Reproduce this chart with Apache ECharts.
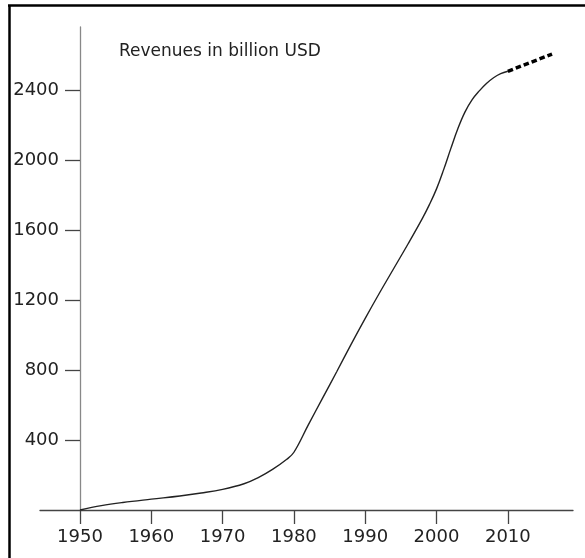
<!DOCTYPE html>
<html>
<head>
<meta charset="utf-8">
<script src="https://cdn.jsdelivr.net/npm/echarts@6/dist/echarts.min.js"></script>
<style>
html,body{margin:0;padding:0;background:#fff;}
#c{width:585px;height:558px;}
</style>
</head>
<body>
<div id="c"></div>
<script>
const years = [1950,1953,1956,1960,1964,1967,1970,1973,1975,1977,1979,1980,1982,1984,1986,1988,1990,1992,1994,1996,1998,1999,2000,2001,2002,2003,2004,2005,2006,2007,2008,2009,2010];
const revenues = [0,25,43,62,80,97,118,150,185,232,290,330,485,638,790,945,1095,1240,1380,1520,1665,1745,1835,1945,2065,2180,2275,2345,2395,2437,2470,2493,2507];
const forecastYears = [2010,2016.2];
const forecastRevenues = [2507,2605];
const xTicks = [1950,1960,1970,1980,1990,2000,2010];
const yTicks = [400,800,1200,1600,2000,2400];
const titleText = 'Revenues in billion USD';

const chart = echarts.init(document.getElementById('c'), null, {renderer:'canvas'});
const font = '"DejaVu Sans", Verdana, sans-serif';
chart.setOption({
  animation:false,
  backgroundColor:'#fff',
  title:{text:titleText,left:114,top:38,textStyle:{fontFamily:font,fontSize:17,fontWeight:'normal',color:'#222'}},
  grid:{left:40,right:12,top:27,bottom:48,containLabel:false},
  xAxis:{
    type:'value',min:1944.39,max:2019.14,
    splitLine:{show:false},
    axisLine:{onZero:false,lineStyle:{color:'#444',width:1.3}},
    axisTick:{show:true,inside:false,length:14,customValues:xTicks,lineStyle:{color:'#444',width:1.3}},
    axisLabel:{customValues:xTicks,margin:18,fontFamily:font,fontSize:18,color:'#222',formatter:v=>String(Math.round(v))}
  },
  yAxis:{
    type:'value',min:0,max:2760,offset:-40,
    splitLine:{show:false},
    axisLine:{show:true,onZero:false,lineStyle:{color:'#888',width:1.3}},
    axisTick:{show:true,length:15,customValues:yTicks,lineStyle:{color:'#444',width:1.3}},
    axisLabel:{customValues:yTicks,margin:21,fontFamily:font,fontSize:18,color:'#222',formatter:v=>String(Math.round(v))}
  },
  series:[
    {type:'line',data:years.map((y,i)=>[y,revenues[i]]),smooth:0.4,showSymbol:false,
     lineStyle:{color:'#222',width:1.4}},
    {type:'line',data:forecastYears.map((y,i)=>[y,forecastRevenues[i]]),showSymbol:false,
     lineStyle:{color:'#000',width:3.5,type:[5.5,3]}}
  ],
  graphic:[
    {type:'line',shape:{x1:8,y1:5.5,x2:585,y2:5.5},style:{stroke:'#000',lineWidth:2.5}},
    {type:'line',shape:{x1:9.5,y1:5,x2:9.5,y2:558},style:{stroke:'#000',lineWidth:2.5}}
  ]
});
</script>
</body>
</html>
